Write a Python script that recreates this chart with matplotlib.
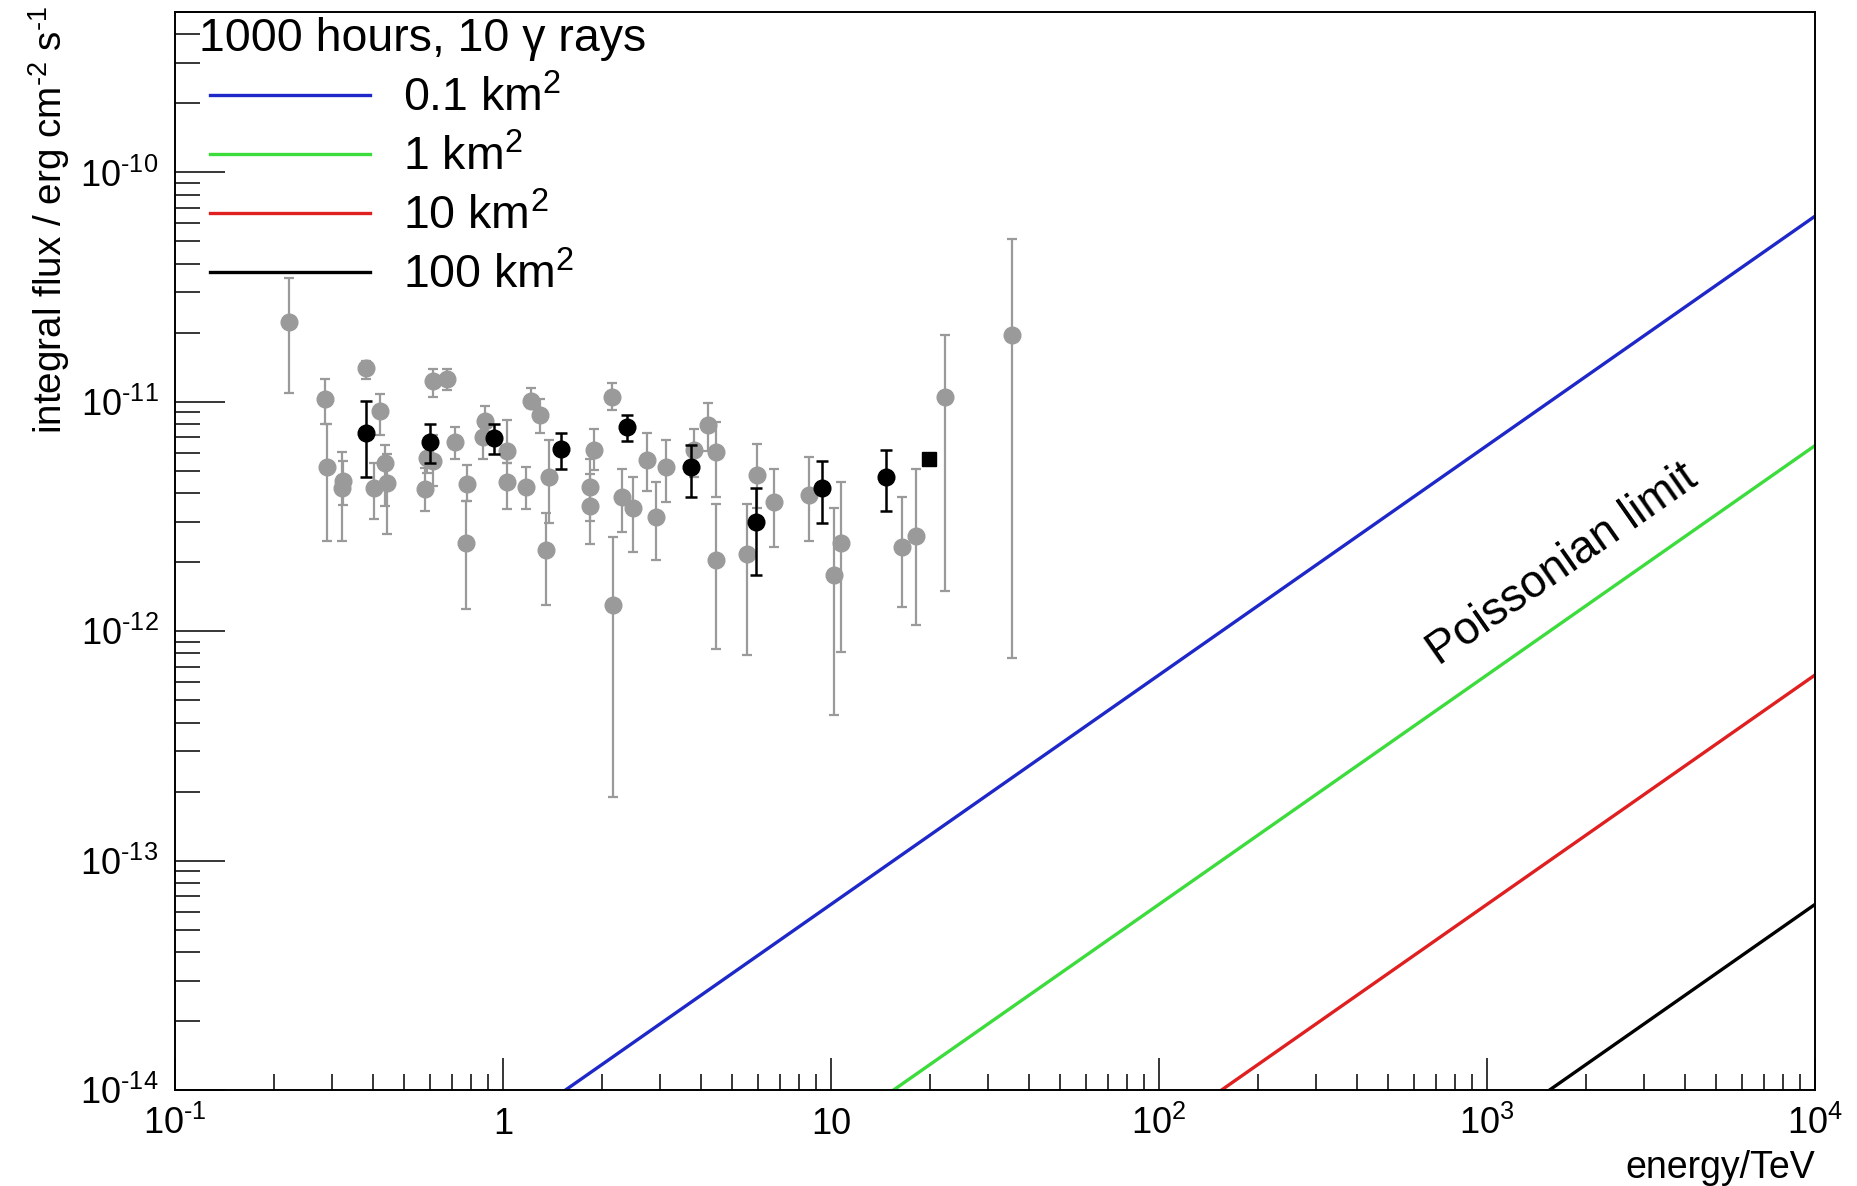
import matplotlib
matplotlib.use("Agg")
import matplotlib.pyplot as plt
import numpy as np

plt.rcParams['font.family'] = ['Liberation Sans', 'DejaVu Sans']
plt.rcParams['mathtext.fontset'] = 'custom'
plt.rcParams['mathtext.rm'] = 'Liberation Sans'
plt.rcParams['mathtext.it'] = 'Liberation Sans:italic'
plt.rcParams['mathtext.bf'] = 'Liberation Sans:bold'

# sensitivity lines (Poissonian limit), one per detector area
area_labels = ['0.1 km$^{2}$', '1 km$^{2}$', '10 km$^{2}$', '100 km$^{2}$']
area_colors = ['#1e28c8', '#3cdc3c', '#e02020', '#000000']
line_energy = [[1.55, 1e4], [15.5, 1e4], [155, 1e4], [1550, 1e4]]
line_flux = [[1e-14, 6.45e-11], [1e-14, 6.45e-12], [1e-14, 6.45e-13], [1e-14, 6.45e-14]]

# grey measurements: energy, flux, lower end, upper end of error bar
grey_e = [0.223, 0.286, 0.290, 0.326, 0.324, 0.381, 0.423, 0.405, 0.436, 0.442,
          0.578, 0.585, 0.610, 0.673, 0.612, 0.713, 0.774, 0.770, 0.880, 0.870,
          1.025, 1.03, 1.174, 1.221, 1.300, 1.382, 1.350, 1.891, 1.839, 1.84,
          2.15, 2.166, 2.31, 2.49, 2.75, 2.92, 3.15, 3.81, 4.22, 4.45,
          4.47, 5.54, 5.95, 6.68, 8.57, 10.2, 10.75, 16.45, 18.19, 22.2,
          35.7]
grey_f = [2.22e-11, 1.03e-11, 5.21e-12, 4.51e-12, 4.22e-12, 1.405e-11, 9.10e-12, 4.22e-12, 5.42e-12, 4.44e-12,
          4.18e-12, 5.70e-12, 1.229e-11, 1.259e-11, 5.51e-12, 6.67e-12, 4.39e-12, 2.43e-12, 8.23e-12, 7.04e-12,
          6.10e-12, 4.47e-12, 4.26e-12, 1.013e-11, 8.74e-12, 4.70e-12, 2.25e-12, 6.14e-12, 4.26e-12, 3.51e-12,
          1.051e-11, 1.298e-12, 3.85e-12, 3.45e-12, 5.57e-12, 3.16e-12, 5.21e-12, 6.14e-12, 7.91e-12, 6.03e-12,
          2.04e-12, 2.18e-12, 4.78e-12, 3.67e-12, 3.91e-12, 1.75e-12, 2.42e-12, 2.34e-12, 2.60e-12, 1.051e-11,
          1.963e-11]
grey_lo = [1.09e-11, 8.0e-12, 2.47e-12, 3.54e-12, 2.47e-12, 1.263e-11, 7.20e-12, 3.07e-12, 3.51e-12, 2.66e-12,
           3.34e-12, 4.9e-12, 1.051e-11, 1.130e-11, 4.29e-12, 5.61e-12, 3.69e-12, 1.256e-12, 6.97e-12, 5.61e-12,
           5.42e-12, 3.42e-12, 3.42e-12, 9.41e-12, 7.32e-12, 2.95e-12, 1.302e-12, 5.06e-12, 3.02e-12, 2.39e-12,
           9.25e-12, 1.90e-13, 2.71e-12, 2.22e-12, 4.08e-12, 2.04e-12, 3.67e-12, 4.70e-12, 6.10e-12, 3.86e-12,
           8.35e-13, 7.87e-13, 3.45e-12, 2.34e-12, 2.47e-12, 4.30e-13, 8.08e-13, 1.277e-12, 1.066e-12, 1.499e-12,
           7.61e-13]
grey_hi = [3.46e-11, 1.26e-11, 8.0e-12, 5.51e-12, 6.03e-12, 1.502e-11, 1.083e-11, 5.42e-12, 6.47e-12, 5.90e-12,
           5.16e-12, 6.6e-12, 1.396e-11, 1.396e-11, 7.2e-12, 7.78e-12, 5.33e-12, 3.69e-12, 9.57e-12, 8.23e-12,
           8.32e-12, 5.42e-12, 5.21e-12, 1.150e-11, 1.033e-11, 6.85e-12, 3.28e-12, 7.62e-12, 5.61e-12, 4.83e-12,
           1.208e-11, 2.57e-12, 5.12e-12, 4.70e-12, 7.32e-12, 4.47e-12, 6.81e-12, 7.62e-12, 9.89e-12, 8.18e-12,
           3.59e-12, 3.59e-12, 6.58e-12, 5.12e-12, 5.74e-12, 3.45e-12, 4.47e-12, 3.86e-12, 5.12e-12, 1.963e-11,
           5.15e-11]

# black measurements
black_e = [0.381, 0.598, 0.940, 1.507, 2.38, 3.73, 5.89, 9.36, 14.67]
black_f = [7.32e-12, 6.67e-12, 6.97e-12, 6.20e-12, 7.75e-12, 5.19e-12, 3.00e-12, 4.22e-12, 4.71e-12]
black_lo = [4.70e-12, 5.42e-12, 5.93e-12, 5.12e-12, 6.74e-12, 3.86e-12, 1.76e-12, 2.95e-12, 3.36e-12]
black_hi = [1.013e-11, 8.01e-12, 8.01e-12, 7.32e-12, 8.74e-12, 6.47e-12, 4.22e-12, 5.51e-12, 6.16e-12]

square_e = [19.88]
square_f = [5.66e-12]

x_ticks = [0.1, 1, 10, 100, 1000, 10000]
x_ticklabels = [r'$10^{\text{-1}}$', '1', '10', '$10^{2}$', '$10^{3}$', '$10^{4}$']
y_ticks = [1e-14, 1e-13, 1e-12, 1e-11, 1e-10]
y_ticklabels = [r'$10^{\text{-14}}$', r'$10^{\text{-13}}$', r'$10^{\text{-12}}$',
                r'$10^{\text{-11}}$', r'$10^{\text{-10}}$']

fig = plt.figure(figsize=(18.58, 11.86), dpi=100)
ax = fig.add_axes([0.0942, 0.0809, 0.8827, 0.9089])

for i in range(len(area_labels)):
    ax.plot(line_energy[i], line_flux[i], color=area_colors[i], lw=2.4, label=area_labels[i])

ge = np.array(grey_e)
gf = np.array(grey_f)
ax.errorbar(ge, gf, yerr=[gf - np.array(grey_lo), np.array(grey_hi) - gf], fmt='o',
            color='#9a9a9a', ms=12, elinewidth=1.6, capsize=3.5, capthick=1.6, zorder=3)
be = np.array(black_e)
bf = np.array(black_f)
ax.errorbar(be, bf, yerr=[bf - np.array(black_lo), np.array(black_hi) - bf], fmt='o',
            color='black', ms=12, elinewidth=1.8, capsize=4, capthick=1.8, zorder=4)
ax.plot(square_e, square_f, 's', color='black', ms=10, zorder=4)

ax.set_xscale('log')
ax.set_yscale('log')
ax.set_xlim(0.1, 1e4)
ax.set_ylim(1e-14, 5e-10)

ax.set_xticks(x_ticks)
ax.set_xticklabels(x_ticklabels, fontsize=26, va='baseline')
ax.set_yticks(y_ticks)
ax.set_yticklabels(y_ticklabels, fontsize=26)
ax.xaxis.set_minor_locator(matplotlib.ticker.LogLocator(base=10, subs=np.arange(2, 10), numticks=20))
ax.yaxis.set_minor_locator(matplotlib.ticker.LogLocator(base=10, subs=np.arange(2, 10), numticks=20))
ax.xaxis.set_minor_formatter(matplotlib.ticker.NullFormatter())
ax.yaxis.set_minor_formatter(matplotlib.ticker.NullFormatter())
ax.tick_params(axis='x', which='major', direction='in', length=23, width=1.1, pad=32)
ax.tick_params(axis='x', which='minor', direction='in', length=11.5, width=1.1)
ax.tick_params(axis='y', which='major', direction='in', length=36, width=1.1, pad=12)
ax.tick_params(axis='y', which='minor', direction='in', length=18, width=1.1)
for s in ax.spines.values():
    s.set_linewidth(1.4)

ax.set_xlabel('energy/TeV', fontsize=27, loc='right')
ax.xaxis.set_label_coords(1.0, -0.056)
ax.set_ylabel(r'integral flux / erg cm$^{\text{-2}}$ s$^{\text{-1}}$', fontsize=27.8, loc='top')
ax.yaxis.set_label_coords(-0.063, 1.0055)

ax.text(1700, 1.95e-12, 'Poissonian limit', fontsize=33, rotation=35,
        ha='center', va='center', rotation_mode='anchor')

# legend header as its own text, entries below it
ax.text(0.0146, 0.975, '1000 hours, 10 γ rays', fontsize=33.5,
        transform=ax.transAxes, ha='left', va='center')
ax.legend(loc='upper left', bbox_to_anchor=(0.0212, 0.9406), frameon=False,
          fontsize=33.5, handlelength=3.44, handletextpad=0.71,
          labelspacing=0.30, borderpad=0, borderaxespad=0)

fig.savefig('out.png', dpi=100)
